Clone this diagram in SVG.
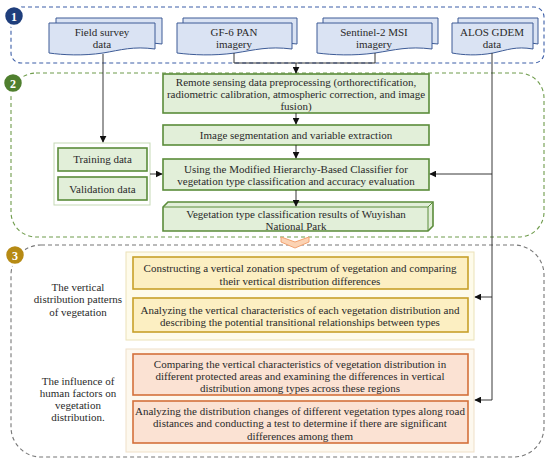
<svg xmlns="http://www.w3.org/2000/svg" width="550" height="463" viewBox="0 0 550 463" font-family="'Liberation Serif','Times New Roman',serif">
<defs>
<style>
text{font-family:"Liberation Serif","Times New Roman",serif;font-size:11px;fill:#2a2a2a;text-anchor:middle}
.badge{font-family:"Liberation Serif",serif;font-weight:bold;font-size:12px;fill:#fff}
.doc{fill:#dae3f3;stroke:#3d5b96;stroke-width:1}
.g{fill:#e2efd9;stroke:#5b8c3a;stroke-width:1.6}
.y{fill:#fcefc2;stroke:#c7a02a;stroke-width:1.6}
.o{fill:#fbe2d3;stroke:#d4713b;stroke-width:1.6}
.ln{fill:none;stroke:#222;stroke-width:0.9}
</style>
<marker id="ar" viewBox="0 0 10 10" refX="9" refY="5" markerWidth="7" markerHeight="7" orient="auto" markerUnits="userSpaceOnUse">
<path d="M0,0 L10,5 L0,10 Z" fill="#111"/>
</marker>
</defs>

<g id="section1">
<rect x="11" y="7" width="533" height="56" rx="10" fill="none" stroke="#3d5fa8" stroke-width="1.1" stroke-dasharray="4,3"/>
<circle cx="14" cy="16" r="10" fill="#1f3e7c" stroke="#fff" stroke-width="2.5"/>
<text class="badge" x="14" y="20.5">1</text>
</g>
<g id="section2">
<rect x="11" y="73" width="533" height="164" rx="25" fill="none" stroke="#6f9c4c" stroke-width="1.1" stroke-dasharray="4,3"/>
<circle cx="13" cy="83" r="10" fill="#4f7f2e" stroke="#fff" stroke-width="2.5"/>
<text class="badge" x="13" y="87.5">2</text>
</g>
<g id="section3">
<rect x="11" y="245" width="533" height="212" rx="30" fill="none" stroke="#777" stroke-width="1.1" stroke-dasharray="4,3"/>
<circle cx="15" cy="255" r="10" fill="#b68a14" stroke="#fff" stroke-width="2.5"/>
<text class="badge" x="15" y="259.5">3</text>
</g>

<g id="field-survey">
<path class="doc" d="M56,18 H162 V44 C140,41 128,45 110,48 C90,51 70,50 56,48 Z"/>
<path class="doc" d="M49,23 H155 V49 C133,46 121,50 103,53 C83,56 63,55 49,53 Z"/>
<text x="102" y="36">Field survey</text>
<text x="102" y="48">data</text>
</g>
<g id="gf6">
<path class="doc" d="M183,18 H297 V44 C274,41 260,45 241,48 C219,51 198,50 183,48 Z"/>
<path class="doc" d="M177,23 H292 V49 C268,46 255,50 235,53 C213,56 193,55 177,53 Z"/>
<text x="234" y="36">GF-6 PAN</text>
<text x="234" y="48">imagery</text>
</g>
<g id="sentinel2">
<path class="doc" d="M323,18 H438 V44 C414,41 401,45 381,48 C359,51 338,50 323,48 Z"/>
<path class="doc" d="M317,23 H432 V49 C408,46 395,50 375,53 C353,56 333,55 317,53 Z"/>
<text x="374" y="36">Sentinel-2 MSI</text>
<text x="374" y="48">imagery</text>
</g>
<g id="alos">
<path class="doc" d="M458,18 H538 V44 C522,41 512,45 498,48 C482,51 468,50 458,48 Z"/>
<path class="doc" d="M452,23 H533 V49 C516,46 507,50 493,53 C477,56 463,55 452,53 Z"/>
<text x="492" y="36">ALOS GDEM</text>
<text x="492" y="48">data</text>
</g>

<g id="preprocessing">
<rect class="g" x="163" y="74" width="266" height="39"/>
<text x="296" y="86">Remote sensing data preprocessing (orthorectification,</text>
<text x="296" y="98">radiometric calibration, atmospheric correction, and image</text>
<text x="296" y="110">fusion)</text>
</g>
<g id="segmentation">
<rect class="g" x="163" y="125" width="266" height="20"/>
<text x="296" y="139">Image segmentation and variable extraction</text>
</g>
<g id="classifier">
<rect class="g" x="163" y="159" width="266" height="31"/>
<text x="296" y="173">Using the Modified Hierarchy-Based Classifier for</text>
<text x="296" y="185">vegetation type classification and accuracy evaluation</text>
</g>
<g id="results">
<path class="g" d="M163,207 L168,202 H433 V226 L428,231 H163 Z"/>
<path d="M163,207 H428 L433,202 M428,207 V231" fill="none" stroke="#5b8c3a" stroke-width="1"/>
<text x="296" y="218">Vegetation type classification results of Wuyishan</text>
<text x="296" y="230">National Park</text>
</g>
<g id="samples">
<rect x="54" y="143" width="96" height="62" fill="#fff" stroke="#c5d9b5" stroke-width="1"/>
<rect class="g" x="58" y="148" width="89" height="23"/>
<text x="102.5" y="163">Training data</text>
<rect class="g" x="58" y="177" width="89" height="23"/>
<text x="102.5" y="193">Validation data</text>
</g>

<g id="chevron">
<polygon points="281,237 295,242 309,237 309,242 295,248 281,242" fill="#fcd3b4" stroke="#f2a271" stroke-width="1"/>
</g>

<g id="vertical-patterns">
<rect x="126" y="252" width="348" height="88" fill="#fefbea" stroke="#ebe2b8" stroke-width="1"/>
<rect class="y" x="133" y="257" width="335" height="32"/>
<text x="300" y="272">Constructing a vertical zonation spectrum of vegetation and comparing</text>
<text x="300" y="285">their vertical distribution differences</text>
<rect class="y" x="133" y="298" width="335" height="34"/>
<text x="300" y="314">Analyzing the vertical characteristics of each vegetation distribution and</text>
<text x="300" y="326">describing the potential transitional relationships between types</text>
</g>
<g id="label-vertical">
<text x="78" y="291">The vertical</text>
<text x="78" y="303">distribution patterns</text>
<text x="78" y="316">of vegetation</text>
</g>
<g id="human-factors">
<rect x="126" y="349" width="348" height="103" fill="#fdf8ee" stroke="#efe0c8" stroke-width="1"/>
<rect class="o" x="133" y="354" width="335" height="41"/>
<text x="300" y="368">Comparing the vertical characteristics of vegetation distribution in</text>
<text x="300" y="380">different protected areas and examining the differences in vertical</text>
<text x="300" y="392">distribution among types across these regions</text>
<rect class="o" x="133" y="401" width="335" height="42"/>
<text x="300" y="415">Analyzing the distribution changes of different vegetation types along road</text>
<text x="300" y="427">distances and conducting a test to determine if there are significant</text>
<text x="300" y="440">differences among them</text>
</g>
<g id="label-human">
<text x="78" y="385">The influence of</text>
<text x="78" y="397">human factors on</text>
<text x="78" y="409">vegetation</text>
<text x="78" y="421">distribution.</text>
</g>

<g id="connectors">
<path class="ln" d="M103,54 V142" marker-end="url(#ar)"/>
<path class="ln" d="M234,53 V63 H296" stroke="#555"/>
<path class="ln" d="M375,53 V63 H296" stroke="#555"/>
<path class="ln" d="M296,63 V73" marker-end="url(#ar)"/>
<path class="ln" d="M296,113 V124" marker-end="url(#ar)"/>
<path class="ln" d="M296,145 V158" marker-end="url(#ar)"/>
<path class="ln" d="M296,190 V206" marker-end="url(#ar)"/>
<path class="ln" d="M150,174 H162" marker-end="url(#ar)"/>
<path class="ln" d="M492,53 V400 H475" marker-end="url(#ar)"/>
<path class="ln" d="M492,174 H430" marker-end="url(#ar)"/>
<path class="ln" d="M492,297 H475" marker-end="url(#ar)"/>
</g>
</svg>
